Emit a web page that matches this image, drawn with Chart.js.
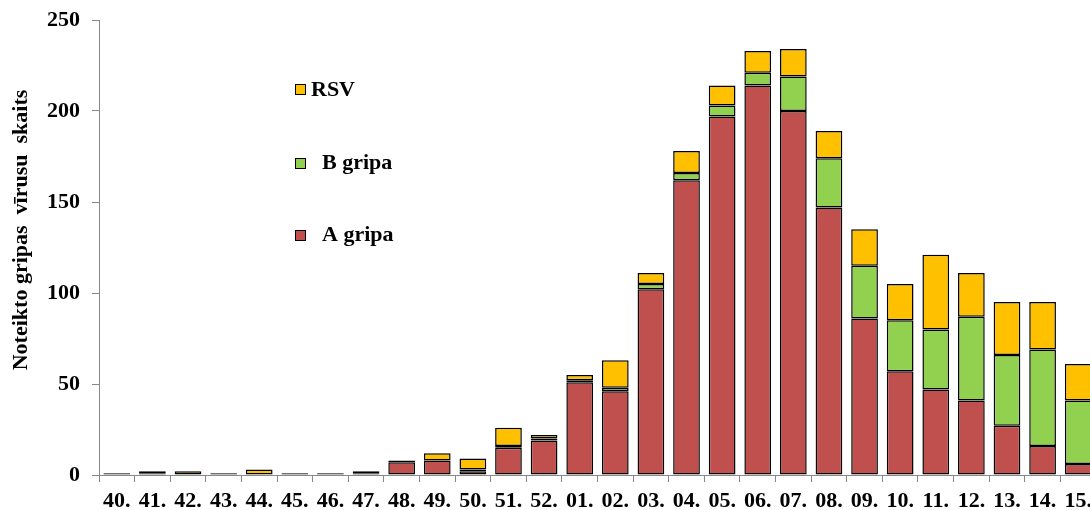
<!DOCTYPE html>
<html>
<head>
<meta charset="utf-8">
<script src="https://cdn.jsdelivr.net/npm/chart.js@4.4.1/dist/chart.umd.min.js"></script>
<style>
html,body{margin:0;padding:0;overflow:hidden;background:#fff;}
#wrap{width:1100px;height:510px;position:relative;}
</style>
</head>
<body>
<div id="wrap"><canvas id="c"></canvas></div>
<script>
const weeks = ['40.','41.','42.','43.','44.','45.','46.','47.','48.','49.','50.','51.','52.','01.','02.','03.','04.','05.','06.','07.','08.','09.','10.','11.','12.','13.','14.','15.'];
const aGripa = [0,1,0,0,0,0,1,0,7,8,2,15,19,51,46,102,162,197,214,200,147,86,57,47,41,27,16,6];
const bGripa = [0,0,0,0,0,0,0,1,0,0,1,1,1,1,2,3,4,6,7,19,27,29,28,33,46,39,53,35];
const rsv    = [1,1,2,1,3,1,0,1,1,4,6,10,2,3,15,6,12,11,12,15,15,20,20,41,24,29,26,20];
const yTicks = [0,50,100,150,200,250];
const yTitle = 'Noteikto gripas  vīrusu  skaits';

const FONT = "'Liberation Serif','Times New Roman',serif";
const nz = a => a.map(v => v === 0 ? null : v);

const legendPlugin = {
  id: 'customLegend',
  afterDraw(chart) {
    const ctx = chart.ctx;
    const ds = chart.data.datasets;
    const items = [
      {d: ds[2], by: 84, tx: 311, base: 96},
      {d: ds[1], by: 158, tx: 322, base: 169},
      {d: ds[0], by: 230, tx: 322, base: 241}
    ];
    ctx.save();
    items.forEach(it => {
      ctx.fillStyle = it.d.backgroundColor;
      ctx.fillRect(295, it.by, 11, 11);
      ctx.strokeStyle = '#000';
      ctx.lineWidth = 1;
      ctx.strokeRect(295.5, it.by + 0.5, 10, 10);
      ctx.fillStyle = '#000';
      ctx.font = 'bold 22px ' + FONT;
      ctx.textBaseline = 'alphabetic';
      ctx.fillText(it.d.label, it.tx, it.base);
    });
    ctx.translate(21, 230);
    ctx.rotate(-Math.PI / 2);
    ctx.font = 'bold 22px ' + FONT;
    ctx.textAlign = 'center';
    ctx.textBaseline = 'middle';
    ctx.fillText(yTitle, 0, 0);
    ctx.restore();
  }
};

new Chart(document.getElementById('c'), {
  type: 'bar',
  data: {
    labels: weeks,
    datasets: [
      {label: 'A gripa', data: nz(aGripa), backgroundColor: '#C0504D', borderColor: '#000', borderWidth: 1.5, borderSkipped: false},
      {label: 'B gripa', data: nz(bGripa), backgroundColor: '#92D050', borderColor: '#000', borderWidth: 1.5, borderSkipped: false},
      {label: 'RSV', data: nz(rsv), backgroundColor: '#FFC000', borderColor: '#000', borderWidth: 1.5, borderSkipped: false}
    ]
  },
  options: {
    responsive: true,
    maintainAspectRatio: false,
    animation: false,
    devicePixelRatio: 1,
    layout: {padding: {top: 20, right: 4, left: 0, bottom: 0}},
    plugins: {legend: {display: false}, tooltip: {enabled: false}},
    datasets: {bar: {barPercentage: 0.75, categoryPercentage: 1.0}},
    scales: {
      x: {
        stacked: true,
        grid: {display: true, drawOnChartArea: false, drawTicks: true, tickLength: 7, color: '#888', offset: true},
        border: {display: true, color: '#888', width: 1},
        ticks: {color: '#000', font: {family: FONT, size: 22, weight: 'bold'}, autoSkip: false, maxRotation: 0, minRotation: 0, padding: 6},
        afterFit(s) { s.height = 35; s.paddingLeft = 0; s.paddingRight = 0; }
      },
      y: {
        stacked: true,
        min: 0, max: 250,
        afterBuildTicks(s) { s.ticks = yTicks.map(v => ({value: v})); },
        grid: {display: true, drawOnChartArea: false, drawTicks: true, tickLength: 7, color: '#888'},
        border: {display: true, color: '#888', width: 1},
        ticks: {color: '#000', font: {family: FONT, size: 22, weight: 'bold'}, padding: 12},
        title: {display: false},
        afterFit(s) { s.width = 99; s.paddingTop = 0; s.paddingBottom = 0; }
      }
    }
  },
  plugins: [legendPlugin]
});
</script>
</body>
</html>
